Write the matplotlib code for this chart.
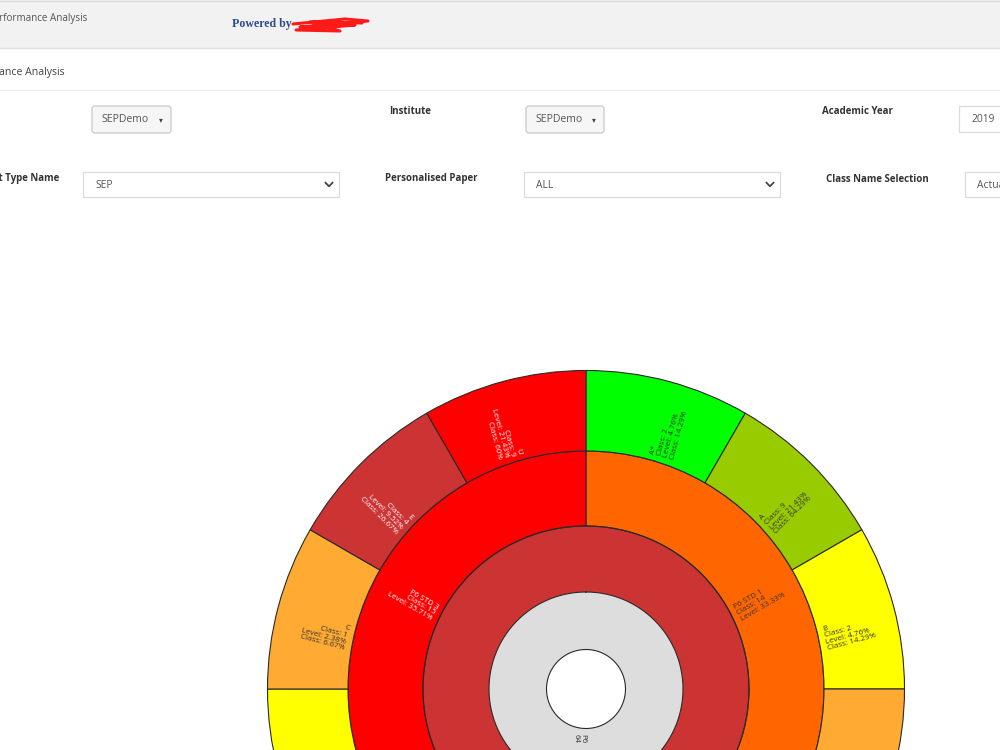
import numpy as np
import matplotlib
matplotlib.use("Agg")
import matplotlib.pyplot as plt
from matplotlib.patches import Rectangle, FancyBboxPatch

plt.rcParams["font.family"] = ["Open Sans", "DejaVu Sans"]

# ---- data ----
root_label = "P6"
root_value = 64

class_names = ["P6 STD 1", "P6 STD 2", "P6 STD 3"]
class_sizes = [14, 13, 15]
class_colours = ["#ff6600", "#cc3333", "#ff0000"]
class_text_colours = ["#333333", "#333333", "#ffffff"]
leaves_per_class = [4, 4, 4]   # every leaf gets the same slice of the circle

std1_grades = ["A*", "A", "B", "C"]
std1_counts = [2, 9, 2, 1]
std1_colours = ["#00ff00", "#99cc00", "#ffff00", "#ffaa33"]
std1_text = ["#333333", "#333333", "#333333", "#333333"]

std3_grades = ["B", "C", "E", "U"]
std3_counts = [1, 1, 4, 9]
std3_colours = ["#ffff00", "#ffaa33", "#cc3333", "#ff0000"]
std3_text = ["#333333", "#333333", "#ffffff", "#ffffff"]

# ring radii in px
r_hole, r_root, r_level, r_class, r_leaf = 39.5, 97, 163, 238, 318.5
edge = "#2a2a2a"
fs = 5.8


def pct(v):
    s = f"{v:.2f}".rstrip("0").rstrip(".")
    return s + "%"


fig = plt.figure(figsize=(10, 7.5), dpi=100)

# ---------- page (pixel coords, y down) ----------
page = fig.add_axes([0, 0, 1, 1])
page.set_xlim(0, 1000)
page.set_ylim(750, 0)
page.axis("off")

page.add_patch(Rectangle((0, 0), 1000, 48, facecolor="#f2f2f2", edgecolor="none"))
page.plot([0, 1000], [48, 48], color="#e2e2e2", lw=1)
page.plot([0, 1000], [0.5, 0.5], color="#d8d8d8", lw=1)
page.text(-1, 18, "rformance Analysis", fontsize=7.1, color="#555555", va="center")
page.text(232, 24, "Powered by", fontsize=8.6, color="#2e4a8c", fontweight="bold",
          family="Liberation Serif", va="center")
# red redaction scribble
scrib_x = [293, 345, 368, 300, 355, 296, 340, 310, 362]
scrib_y = [24, 19, 21, 27, 25, 30, 31, 22, 23]
page.plot(scrib_x, scrib_y, color="#ff1a1a", lw=2.2, solid_capstyle="round")

page.text(-1, 73, "ance Analysis", fontsize=7.6, color="#444444", va="center")
page.plot([0, 1000], [89.5, 89.5], color="#ececec", lw=1)


def button(x, y, w, h, label):
    page.add_patch(FancyBboxPatch((x, y), w, h, boxstyle="round,pad=0,rounding_size=3",
                                  facecolor="#f6f6f6", edgecolor="#c9c9c9", lw=0.9))
    page.text(x + 9, y + h / 2, label, fontsize=7.6, color="#555555", va="center")
    page.text(x + w - 10, y + h / 2, "\u25be", fontsize=5.5, color="#444444",
              va="center", ha="center", family="DejaVu Sans")


def select(x, y, w, h, label, chevron=True):
    page.add_patch(Rectangle((x, y), w, h, facecolor="white", edgecolor="#dcdcdc", lw=0.9))
    page.text(x + 12, y + h / 2 + 0.5, label, fontsize=7.4, color="#555555", va="center")
    if chevron:
        cx, cy = x + w - 10, y + h / 2
        page.plot([cx - 3.5, cx, cx + 3.5], [cy - 1.8, cy + 1.8, cy - 1.8],
                  color="#444444", lw=1.3)


button(92, 106, 79, 27, "SEPDemo")
button(526, 106, 78, 27, "SEPDemo")
select(959, 106, 60, 26, "2019", chevron=False)
select(83, 172, 256, 25, "SEP")
select(524, 172, 256, 25, "ALL")
select(965, 172, 60, 25, "Actual", chevron=False)

lab = dict(fontsize=7.0, color="#333333", fontweight="bold", va="center")
page.text(389, 112, "Institute", **lab)
page.text(822, 112, "Academic Year", **lab)
page.text(59, 179, "Test Type Name", ha="right", **lab)
page.text(385, 179, "Personalised Paper", **lab)
page.text(826, 179, "Class Name Selection", **lab)

# ---------- sunburst ----------
cx, cy, R = 586, 689, 330
ax = fig.add_axes([(cx - R) / 1000, (750 - cy - R) / 750, 2 * R / 1000, 2 * R / 750],
                  projection="polar")
ax.set_theta_zero_location("N")
ax.set_theta_direction(-1)
ax.set_ylim(0, R)
ax.set_axis_off()
ax.patch.set_alpha(0)


def label(phi_deg, r_in, text, colour):
    a = (90 - phi_deg + 180) % 360 - 180
    if -90 <= a <= 90:
        rot, ha = a, "left"
    else:
        rot, ha = a - 180 if a > 0 else a + 180, "right"
    ax.text(np.radians(phi_deg), r_in + 6, text, rotation=rot, rotation_mode="anchor",
            ha=ha, va="top", multialignment=ha, fontsize=fs, color=colour,
            linespacing=0.95)


full = np.linspace(0, 2 * np.pi, 721)
# root and level rings are full circles
ax.bar(0, r_root - r_hole, width=2 * np.pi, bottom=r_hole, color="#dddddd", lw=0)
ax.bar(0, r_level - r_root, width=2 * np.pi, bottom=r_root, color="#cc3333", lw=0)
for r in (r_hole, r_root, r_level):
    ax.plot(full, np.full_like(full, r), color=edge, lw=0.8)
label(180, r_hole - 1, f"{root_label}\n{root_value}", "#333333")

n_leaves = sum(leaves_per_class)
step = 360 / n_leaves
level_total = sum(class_sizes)

leaf_sets = {0: (std1_grades, std1_counts, std1_colours, std1_text),
             2: (std3_grades, std3_counts, std3_colours, std3_text)}

start = 0.0
for i, name in enumerate(class_names):
    span = leaves_per_class[i] * step
    mid = start + span / 2
    ax.bar(np.radians(mid), r_class - r_level, width=np.radians(span), bottom=r_level,
           color=class_colours[i], edgecolor=edge, lw=0.8)
    label(mid, r_level, f"{name}\nClass: {class_sizes[i]}\n"
          f"Level: {pct(100 * class_sizes[i] / level_total)}", class_text_colours[i])
    if i in leaf_sets:
        grades, counts, cols, tcols = leaf_sets[i]
        for j, g in enumerate(grades):
            lm = start + (j + 0.5) * step
            ax.bar(np.radians(lm), r_leaf - r_class, width=np.radians(step), bottom=r_class,
                   color=cols[j], edgecolor=edge, lw=0.8)
            label(lm, r_class, f"{g}\nClass: {counts[j]}\n"
                  f"Level: {pct(100 * counts[j] / level_total)}\n"
                  f"Class: {pct(100 * counts[j] / class_sizes[i])}", tcols[j])
    start += span

fig.savefig("out.png", dpi=100)
